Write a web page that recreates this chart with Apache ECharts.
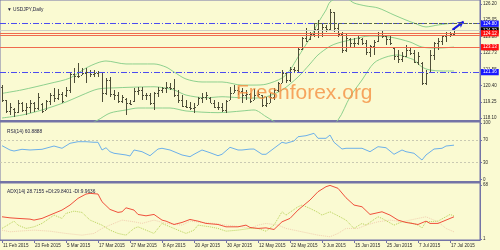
<!DOCTYPE html>
<html>
<head>
<meta charset="utf-8">
<script src="https://cdn.jsdelivr.net/npm/echarts@6/dist/echarts.min.js"></script>
<style>
html,body{margin:0;padding:0;background:#fafad2;}
#chart{width:500px;height:250px;}
</style>
</head>
<body>
<div id="chart"></div>
<script>
// ---------- texts ----------
const chartTitle = '\u25BC USDJPY,Daily';
const rsiTitle = 'RSI(14) 60.8888';
const adxTitle = 'ADX(14) 28.7155 +DI:29.8401 -DI:9.9636';
const watermark = 'Freshforex.org';

// ---------- x axis (bar index) ----------
const xTickIdx = [0,8,16,24,32,40,48,56,64,72,80,88,96,104,112];
const xTickLabels = ['11 Feb 2015','23 Feb 2015','5 Mar 2015','17 Mar 2015','27 Mar 2015','8 Apr 2015','20 Apr 2015','30 Apr 2015','12 May 2015','22 May 2015','3 Jun 2015','15 Jun 2015','25 Jun 2015','7 Jul 2015','17 Jul 2015'];

// ---------- y tick labels ----------
const priceTicks = [118.10,119.25,120.40,121.55,122.73,123.88,125.05,126.20];
const rsiTicks = [0,30,70,100];
const adxTicks = [1,68];

// ---------- OHLC ----------
const opens = [120.30,119.35,118.60,118.75,118.55,119.20,118.70,118.90,119.20,118.80,
119.10,118.70,119.30,119.70,119.50,119.80,119.70,120.10,121.20,121.10,
121.15,121.30,121.40,121.20,121.30,121.35,119.90,120.80,119.80,119.70,
119.30,119.45,119.20,119.30,120.00,120.10,119.70,119.70,119.20,119.90,
120.10,120.20,120.30,120.20,119.70,119.40,118.95,118.90,118.80,119.05,
119.50,119.60,119.55,119.20,118.90,118.85,118.70,119.40,119.90,120.10,
120.00,119.70,119.80,119.40,119.70,119.70,119.00,119.20,119.60,120.10,
120.60,121.30,120.80,121.60,121.50,123.00,123.80,123.70,124.10,124.40,
124.00,124.60,124.40,125.60,124.50,124.10,122.90,123.70,123.40,123.40,
123.70,123.40,122.80,123.20,123.60,124.00,123.90,123.70,123.10,122.50,
122.30,122.50,122.90,122.70,122.10,122.00,120.60,121.40,122.60,123.40,
123.60,123.90,124.00,124.10];
const highs = [120.44,119.38,119.14,118.79,119.38,119.26,119.14,119.38,119.26,119.85,
119.14,119.38,119.85,120.21,120.14,119.97,120.28,121.39,121.63,122.03,
121.63,121.63,121.51,121.51,121.46,121.39,120.92,121.03,120.09,119.97,
119.75,119.50,119.38,120.21,120.32,120.32,119.85,119.85,119.97,120.32,
120.32,120.68,120.56,120.85,120.09,119.73,119.38,119.26,119.14,119.61,
119.85,119.97,119.61,119.38,119.26,119.14,119.38,120.32,120.44,120.32,
120.21,120.09,119.85,120.14,120.09,119.73,119.61,119.85,120.21,120.68,
121.51,121.39,121.74,121.74,123.17,123.88,124.47,124.23,124.83,125.06,
124.83,124.71,125.82,125.65,124.83,124.23,124.12,123.76,123.76,124.00,
123.76,123.64,123.29,123.64,124.23,124.35,124.00,124.00,123.17,122.93,
122.81,123.29,123.17,122.93,122.81,122.10,121.51,122.93,123.52,123.76,
124.00,124.23,124.23,124.47];
const lows = [119.23,118.43,118.31,118.19,118.43,118.55,118.31,118.43,118.55,118.67,
118.43,118.67,119.02,119.26,119.38,119.14,119.61,119.85,120.56,120.92,
121.15,120.56,121.03,121.03,121.03,119.26,119.73,119.61,119.38,119.14,
119.20,118.31,119.02,119.26,119.73,119.38,119.38,119.02,118.67,119.61,
119.85,119.85,120.09,119.61,119.14,118.90,118.79,118.67,118.43,119.02,
119.14,119.38,119.14,118.79,118.67,118.55,118.43,119.38,119.85,119.73,
119.14,119.38,119.14,119.38,119.61,118.90,118.90,119.14,119.38,119.97,
120.56,120.56,120.68,121.39,121.39,122.93,123.52,123.64,123.88,123.76,
123.88,124.23,124.35,124.23,123.88,122.70,122.81,123.17,123.17,123.29,
123.29,122.58,122.45,122.58,123.52,123.76,123.29,123.29,122.22,121.99,
122.10,122.45,122.58,121.99,121.86,120.44,120.44,121.39,122.22,122.93,
123.29,123.52,123.88,124.00];
const closes = [119.40,118.60,118.90,118.55,119.20,118.70,118.90,119.20,118.80,119.60,
118.60,119.30,119.70,119.50,119.80,119.30,120.10,121.20,121.10,121.10,
121.30,121.40,121.20,121.30,121.35,119.90,120.80,119.80,119.70,119.30,
119.60,119.20,119.10,120.00,120.10,119.70,119.70,119.20,119.90,120.10,
120.20,120.30,120.20,119.70,119.40,118.95,118.90,118.80,118.90,119.50,
119.60,119.70,119.20,118.90,118.85,118.70,119.30,119.90,120.10,120.00,
119.70,119.80,119.30,119.70,119.80,119.00,119.20,119.60,120.10,120.60,
121.30,120.80,121.60,121.50,123.00,123.80,123.60,124.10,124.40,124.00,
124.60,124.40,125.60,124.50,124.10,122.90,123.80,123.40,123.40,123.80,
123.40,122.80,123.20,123.50,124.00,123.90,123.70,123.40,122.50,122.30,
122.50,122.90,122.70,122.10,122.50,120.60,121.30,122.60,123.40,123.60,
123.90,124.00,124.10,124.33];

// ---------- Bollinger bands (read at sampled bars) ----------
const bbUpperIdx = [0,5,12,17,21,24,26,31,38,41,43,46,50,55,60,63,66,70,72,74,77,79,81,82,84,86,88,91,94,98,101,103,106,109,113];
const bbUpperVal = [119.85,120.10,120.56,120.94,121.65,122.03,122.15,121.94,121.94,121.72,121.37,120.87,120.66,120.66,120.44,120.44,120.50,120.94,121.51,122.43,123.78,124.85,125.77,126.34,126.60,126.60,126.27,126.06,125.92,125.42,125.06,124.85,124.57,124.71,124.85];
const bbMidIdx = [0,5,10,16,20,24,29,34,38,43,46,51,55,59,63,66,70,74,77,79,82,84,87,92,97,102,105,109,113];
const bbMidVal = [118.10,118.31,118.67,119.24,119.73,120.16,120.25,120.30,120.32,120.09,119.73,119.54,119.61,119.55,119.52,119.60,120.09,121.01,121.94,122.58,123.20,123.43,123.64,123.93,123.85,123.50,123.14,123.07,123.14];
const bbLowIdx = [20,24,27,31,34,42,46,54,60,63,66,70,75,80,84,87,90,93,96,99,101,103,105,107,110,113];
const bbLowVal = [117.40,117.96,118.45,118.67,118.81,118.81,118.60,118.48,118.60,118.67,118.20,117.50,116.80,117.00,117.96,119.59,120.80,122.01,122.43,122.58,122.43,122.22,121.72,121.51,121.44,121.44];

// ---------- price levels ----------
const levelBlueHigh = 124.80;
const levelBid = 124.33;
const levelRedA = 124.12;
const levelRedB = 124.00;
const levelRedC = 123.13;
const levelBlueLow = 121.36;
const trendFrom = [78, 124.80];
const arrowFrom = [112.6, 124.36];
const arrowTo = [115.4, 124.95];

// ---------- RSI(14) ----------
const rsiIdx = [0,2,3,5,7,10,13,15,17,19,21,23,24,25,26,27,28,31,32,33,35,37,39,40,42,45,47,48,50,52,54,55,57,59,60,62,63,65,66,68,70,71,73,74,76,78,79,81,82,83,85,86,90,92,94,96,98,100,101,103,105,106,108,110,111,113];
const rsiVal = [60.0,52.4,50.6,53.6,52.4,53.6,59.4,55.4,64.2,67.0,67.0,66.0,66.0,52.4,56.4,49.4,46.6,43.6,41.8,52.4,49.4,42.3,54.1,55.4,52.4,43.6,40.6,44.8,52.4,47.6,42.3,44.8,57.1,52.4,52.4,54.0,54.1,44.8,44.8,55.4,66.0,64.2,68.3,75.8,77.6,81.8,73.0,73.0,78.8,66.0,54.1,55.4,55.4,49.4,58.2,56.4,44.8,52.4,49.4,46.6,34.7,43.6,54.1,55.4,59.4,60.9];
const rsiLevels = [70,30];

// ---------- ADX(14) ----------
const adxIdx = [0,2,4,7,8,10,13,15,17,19,21,22,24,25,27,29,30,31,33,34,36,38,40,41,43,45,47,49,51,54,56,59,61,62,64,66,68,70,72,74,77,79,81,82,84,86,88,90,92,95,97,99,101,104,106,107,109,113];
const adxVal = [28.7,27.4,26.7,25.8,24.6,26.7,32.9,37.0,43.2,51.5,56.8,57.7,56.8,47.3,37.8,34.1,34.9,39.8,37.0,31.6,29.9,31.6,24.6,23.3,19.2,21.7,25.4,23.3,20.5,19.2,16.3,16.3,18.4,15.5,14.3,15.0,13.0,22.5,26.7,37.0,49.4,59.7,65.9,67.5,63.9,52.2,43.2,41.1,31.6,34.9,30.8,24.6,21.7,19.2,23.3,20.5,20.5,28.7];
const pdiIdx = [0,3,4,6,8,10,13,15,16,18,20,22,25,27,29,31,33,34,36,38,40,41,44,46,48,49,52,54,56,59,62,64,66,68,70,71,74,75,77,79,80,82,84,86,88,90,91,94,95,98,100,102,104,105,106,109,112,113];
const pdiVal = [14.3,23.3,18.4,14.3,16.3,20.5,30.8,26.7,32.9,35.7,34.1,24.6,18.4,12.2,8.1,6.0,14.3,16.3,12.2,8.1,20.5,18.4,12.2,8.1,12.2,18.4,16.3,14.3,10.9,12.2,14.3,14.3,10.9,18.4,34.9,30.8,41.1,43.2,39.1,34.1,30.8,34.9,29.9,24.6,14.3,20.5,18.4,28.7,26.7,18.4,22.5,21.7,18.4,15.0,22.5,23.3,31.6,29.8];
const mdiIdx = [0,2,4,8,12,16,20,23,25,28,30,33,35,38,41,45,47,50,53,56,60,62,64,66,69,71,75,79,82,84,86,89,91,94,97,100,104,106,109,111,113];
const mdiVal = [12.2,10.1,10.9,12.2,10.9,8.1,6.0,8.1,14.3,20.5,24.6,22.5,20.5,24.6,20.5,18.4,23.3,21.7,20.5,18.4,16.3,14.3,18.4,20.5,18.4,14.3,10.1,6.0,4.0,8.1,14.3,14.3,18.4,22.5,24.6,22.5,26.7,28.7,22.5,14.3,10.1];

// ---------- build ----------
const zip = (a, b) => a.map((v, k) => [v, b[k]]);
const ohlc = opens.map((o, k) => [k, o, highs[k], lows[k], closes[k]]);

const FONT = 'Liberation Sans';
const AXIS_COLOR = '#7373a6';
const TXT = '#2b2b2b';
const BAR = '#4e4e38';
const BB = '#8ed08e';

const chart = echarts.init(document.getElementById('chart'), null, {renderer: 'canvas'});

function xAx(gridIndex, bottomAxis) {
  return {
    type: 'value', gridIndex: gridIndex, min: -0.5, max: 119.5,
    splitLine: {show: false},
    axisLine: {show: true, onZero: false, lineStyle: {color: AXIS_COLOR, width: bottomAxis ? 1 : 2}},
    axisTick: bottomAxis ? {show: true, customValues: xTickIdx, length: 3, lineStyle: {color: AXIS_COLOR}} : {show: false},
    axisLabel: bottomAxis ? {
      show: true, customValues: xTickIdx, fontSize: 4.6, fontFamily: FONT, color: TXT,
      align: 'left', margin: 3, padding: [0, 0, 0, 1],
      formatter: v => xTickLabels[xTickIdx.indexOf(Math.round(v))] || ''
    } : {show: false}
  };
}
function yAx(gridIndex, min, max, ticks, dec) {
  return {
    type: 'value', gridIndex: gridIndex, position: 'right', min: min, max: max,
    splitLine: {show: false},
    axisLine: {show: true, onZero: false, lineStyle: {color: AXIS_COLOR, width: 1}},
    axisTick: {show: true, customValues: ticks, length: 2, lineStyle: {color: AXIS_COLOR}},
    axisLabel: {show: true, customValues: ticks, fontSize: 4.5, fontFamily: FONT, color: TXT, margin: 3,
      formatter: v => Number(v).toFixed(dec)}
  };
}

function boxLabel(bg, txt) {
  return {show: true, position: 'end', distance: 1, formatter: txt, color: '#ffffff',
    backgroundColor: bg, padding: [0.8, 2, 0.5, 2], fontSize: 4.5, fontFamily: FONT};
}

const option = {
  backgroundColor: '#fafad2',
  animation: false,
  title: [
    {text: chartTitle, left: 2, top: 2, textStyle: {fontSize: 4.8, fontWeight: 'normal', color: '#1e1e3c', fontFamily: FONT}},
    {text: rsiTitle, left: 2, top: 124, textStyle: {fontSize: 4.8, fontWeight: 'normal', color: '#1e1e3c', fontFamily: FONT}},
    {text: adxTitle, left: 2, top: 184, textStyle: {fontSize: 4.8, fontWeight: 'normal', color: '#1e1e3c', fontFamily: FONT}}
  ],
  grid: [
    {left: 0, top: 0, width: 480, height: 121, show: true, borderColor: AXIS_COLOR, borderWidth: 1, backgroundColor: 'transparent'},
    {left: 0, top: 122, width: 480, height: 60, show: true, borderColor: AXIS_COLOR, borderWidth: 1, backgroundColor: 'transparent'},
    {left: 0, top: 183, width: 480, height: 57, show: true, borderColor: AXIS_COLOR, borderWidth: 1, backgroundColor: 'transparent'}
  ],
  xAxis: [xAx(0, false), xAx(1, false), xAx(2, true)],
  yAxis: [
    yAx(0, 117.887, 126.484, priceTicks, 2),
    yAx(1, -4.06, 101.76, rsiTicks, 0),
    yAx(2, 0, 70.47, adxTicks, 0)
  ],
  graphic: [
    {type: 'text', left: 236, top: 83, z: 50, silent: true,
      style: {text: watermark, fontSize: 21, fontFamily: FONT, fill: 'rgba(245,140,60,0.78)'}}
  ],
  series: [
    {
      name: 'bbUpper', type: 'line', xAxisIndex: 0, yAxisIndex: 0, data: zip(bbUpperIdx, bbUpperVal),
      symbol: 'none', smooth: 0.3, lineStyle: {color: BB, width: 1}, z: 1
    },
    {
      name: 'bbMid', type: 'line', xAxisIndex: 0, yAxisIndex: 0, data: zip(bbMidIdx, bbMidVal),
      symbol: 'none', smooth: 0.3, lineStyle: {color: BB, width: 1}, z: 1
    },
    {
      name: 'bbLow', type: 'line', xAxisIndex: 0, yAxisIndex: 0, data: zip(bbLowIdx, bbLowVal),
      symbol: 'none', smooth: 0.3, lineStyle: {color: BB, width: 1}, z: 1
    },
    {
      name: 'levels', type: 'line', xAxisIndex: 0, yAxisIndex: 0, data: [], z: 5,
      markLine: {
        silent: true, symbol: 'none', animation: false, z: 20,
        data: [
          {yAxis: levelBlueHigh, lineStyle: {color: '#4b4bf0', width: 1, type: [6, 2, 1, 2]}, label: boxLabel('#1818ff', levelBlueHigh.toFixed(2))},
          {yAxis: levelBid, lineStyle: {color: '#cfcfc6', width: 1, type: 'solid'}, label: boxLabel('#000000', levelBid.toFixed(2))},
          {yAxis: levelRedB, lineStyle: {color: '#f06a4e', width: 1, type: 'solid'}, label: {show: false}},
          {yAxis: levelRedA, lineStyle: {color: '#f06a4e', width: 1, type: 'solid'}, label: boxLabel('#ff1010', levelRedA.toFixed(2))},
          {yAxis: levelRedC, lineStyle: {color: '#f06a4e', width: 1, type: 'solid'}, label: boxLabel('#ff1010', levelRedC.toFixed(2))},
          {yAxis: levelBlueLow, lineStyle: {color: '#4b4bf0', width: 1, type: [6, 2, 1, 2]}, label: boxLabel('#1818ff', levelBlueLow.toFixed(2))},
          [{coord: trendFrom, lineStyle: {color: '#5a6a40', width: 1, type: [3, 2]}}, {coord: [119.5, trendFrom[1]]}]
        ]
      }
    },
    {
      name: 'USDJPY', type: 'custom', xAxisIndex: 0, yAxisIndex: 0, data: ohlc, z: 3, clip: true,
      encode: {x: 0, y: [1, 2, 3, 4]},
      renderItem: function (params, api) {
        const i = api.value(0);
        const o = api.coord([i, api.value(1)]);
        const h = api.coord([i, api.value(2)]);
        const l = api.coord([i, api.value(3)]);
        const c = api.coord([i, api.value(4)]);
        const x = Math.floor(h[0]);
        const st = {fill: BAR};
        const yh = Math.round(h[1]), yl = Math.round(l[1]);
        return {type: 'group', children: [
          {type: 'rect', shape: {x: x, y: yh, width: 1, height: Math.max(1, yl - yh)}, style: st},
          {type: 'rect', shape: {x: x - 1, y: Math.round(o[1]), width: 1, height: 1}, style: st},
          {type: 'rect', shape: {x: x + 1, y: Math.round(c[1]), width: 1, height: 1}, style: st}
        ]};
      }
    },
    {
      name: 'arrow', type: 'line', xAxisIndex: 0, yAxisIndex: 0, data: [], z: 30,
      markLine: {
        silent: true, animation: false, symbol: ['none', 'arrow'], symbolSize: [5, 6], label: {show: false},
        lineStyle: {color: '#1a1ae0', width: 2, type: 'solid'},
        data: [[{coord: arrowFrom}, {coord: arrowTo}]]
      }
    },
    {
      name: 'RSI', type: 'line', xAxisIndex: 1, yAxisIndex: 1, data: zip(rsiIdx, rsiVal),
      symbol: 'none', lineStyle: {color: '#6cb0ea', width: 1},
      markLine: {
        silent: true, symbol: 'none', animation: false, label: {show: false},
        lineStyle: {color: '#c9c9b2', width: 1, type: [2, 2]},
        data: rsiLevels.map(v => ({yAxis: v}))
      }
    },
    {
      name: '-DI', type: 'line', xAxisIndex: 2, yAxisIndex: 2, data: zip(mdiIdx, mdiVal),
      symbol: 'none', lineStyle: {color: '#f2cfb0', width: 1, type: 'dotted'}
    },
    {
      name: '+DI', type: 'line', xAxisIndex: 2, yAxisIndex: 2, data: zip(pdiIdx, pdiVal),
      symbol: 'none', lineStyle: {color: '#b9d35a', width: 1, type: 'dotted'}
    },
    {
      name: 'ADX', type: 'line', xAxisIndex: 2, yAxisIndex: 2, data: zip(adxIdx, adxVal),
      symbol: 'none', lineStyle: {color: '#f0503c', width: 1}
    }
  ]
};
chart.setOption(option);
</script>
</body>
</html>
